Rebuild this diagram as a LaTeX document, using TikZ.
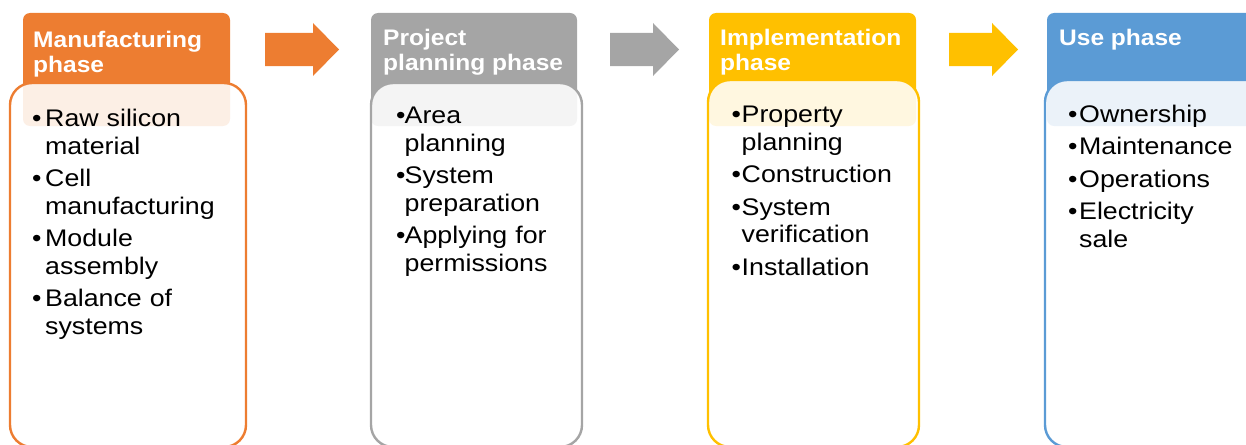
\documentclass[tikz,border=0pt]{standalone}
\usepackage{fontspec}
\setmainfont{Liberation Sans}[FakeStretch=1.09]
\newfontfamily\listfont{Liberation Sans}[FakeStretch=1.115]
\usetikzlibrary{positioning}

\definecolor{manuorange}{HTML}{ED7D31}
\definecolor{plangray}{HTML}{A5A5A5}
\definecolor{implgold}{HTML}{FFC000}
\definecolor{useblue}{HTML}{5B9BD5}

\newlength\bulhang
\newcommand{\phitem}[1]{\par\hangindent=\bulhang\hangafter=1\noindent\makebox[\bulhang][l]{\textbullet}#1\par\vspace{5pt}}

\begin{document}
\begin{tikzpicture}[x=1pt,y=-1pt,
    headbox/.style={anchor=north west,inner sep=0pt,outer sep=0pt,rounded corners=7pt},
    bodybox/.style={anchor=north west,inner sep=0pt,outer sep=0pt,rounded corners=22pt,line width=2.4pt,fill=white,fill opacity=0.88},
    headtext/.style={anchor=north west,inner sep=0pt,text=white,align=left,font=\bfseries\fontsize{22.5}{25}\selectfont},
    itemlist/.style={anchor=north west,inner sep=0pt,text width=200pt,font=\listfont\fontsize{24}{27.5}\selectfont}]
        \def\blockarrow#1#2{(#1,33) -- ++(#2,0) -- ++(0,-10) -- ++(26,26.5) -- ++(-26,26.5) -- ++(0,-10) -- ++(-#2,0) -- cycle}
        \useasboundingbox (0,0) rectangle (1246,444);
        \clip (0,0) rectangle (1246,444);
        % phase headers
        \node[headbox,fill=manuorange,minimum width=207pt,minimum height=113pt] (manuhead) at (23,13) {};
        \node[headbox,fill=plangray,minimum width=206pt,minimum height=113pt] (planhead) at (371,13) {};
        \node[headbox,fill=implgold,minimum width=207pt,minimum height=113pt] (implhead) at (709,13) {};
        \node[headbox,fill=useblue,minimum width=230pt,minimum height=113pt] (usehead) at (1047,13) {};
        % bodies, half see-through so the header tints their top
        \node[bodybox,draw=manuorange,minimum width=236pt,minimum height=364pt] (manubody) at (10,83) {};
        \node[bodybox,draw=plangray,minimum width=211pt,minimum height=364pt] (planbody) at (371,83) {};
        \node[bodybox,draw=implgold,minimum width=211pt,minimum height=367pt] (implbody) at (708,80) {};
        \node[bodybox,draw=useblue,minimum width=240pt,minimum height=367pt] (usebody) at (1045,80) {};
        % arrows between phases
        \fill[manuorange] \blockarrow{265}{48};
        \fill[plangray] \blockarrow{610}{43};
        \fill[implgold] \blockarrow{949}{43};
        % titles
        \node[headtext] (manutitle) at (33,30.6) {Manufacturing\\phase};
        \node[headtext] (plantitle) at (383,29) {Project\\planning phase};
        \node[headtext] (impltitle) at (720,29.3) {Implementation\\phase};
        \node[headtext] (usetitle) at (1059,28.6) {Use phase};
        % item lists
        \node[itemlist] (manulist) at (32,99) {\bulhang=13pt
            \phitem{Raw silicon\newline material}\phitem{Cell\newline manufacturing}\phitem{Module\newline assembly}\phitem{Balance of\newline systems}};
        \node[itemlist] (planlist) at (396,96) {\bulhang=8.5pt
            \phitem{Area\newline planning}\phitem{System\newline preparation}\phitem{Applying for\newline permissions}};
        \node[itemlist] (impllist) at (731.5,95) {\bulhang=10pt
            \phitem{Property\newline planning}\phitem{Construction}\phitem{System\newline verification}\phitem{Installation}};
        \node[itemlist] (uselist) at (1068,94.5) {\bulhang=11pt
            \phitem{Ownership}\phitem{Maintenance}\phitem{Operations}\phitem{Electricity\newline sale}};
    \end{tikzpicture}
\end{document}
